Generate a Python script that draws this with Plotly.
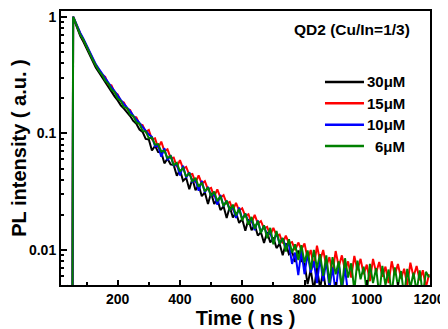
import plotly.graph_objects as go

# time grid (ns)
time_ns = [20, 30, 40, 50, 55, 57] + list(range(60, 1201, 10))

series_names = ["30\u03bcM", "15\u03bcM", "10\u03bcM", "6\u03bcM"]
series_colors = ["#000000", "#ff0000", "#0000ff", "#008000"]

pl_30uM = [0.0038, 0.0041, 0.0046, 0.0045, 0.0046, 1.0,
    0.94, 0.79, 0.685, 0.61, 0.537, 0.473, 0.416, 0.366, 0.334, 0.304,
    0.275, 0.246, 0.228, 0.208, 0.192, 0.174, 0.163, 0.152, 0.141, 0.128,
    0.121, 0.108, 0.103, 0.0898, 0.0888, 0.0713, 0.0782, 0.0691, 0.0689, 0.0554,
    0.0607, 0.0543, 0.0535, 0.0434, 0.0487, 0.0392, 0.0416, 0.0332, 0.0409, 0.0326,
    0.0361, 0.0290, 0.0312, 0.0248, 0.0310, 0.0248, 0.0274, 0.0220, 0.0237, 0.0188,
    0.0235, 0.0190, 0.0210, 0.0171, 0.0184, 0.0146, 0.0184, 0.0148, 0.0165, 0.0133,
    0.0142, 0.0115, 0.0143, 0.0116, 0.0128, 0.0104, 0.0113, 0.0090, 0.0114, 0.0092,
    0.0097, 0.0079, 0.0099, 0.0081, 0.0076, 0.0051, 0.0068, 0.0045, 0.0070, 0.0047,
    0.0066, 0.0043, 0.0040]

pl_15uM = [0.0040, 0.0043, 0.0048, 0.0046, 0.0047, 1.0,
    0.965, 0.822, 0.715, 0.637, 0.562, 0.495, 0.436, 0.385, 0.352, 0.320,
    0.305, 0.263, 0.258, 0.225, 0.216, 0.189, 0.184, 0.163, 0.159, 0.139,
    0.137, 0.120, 0.118, 0.103, 0.107, 0.089, 0.091, 0.075, 0.085, 0.0706,
    0.0731, 0.0617, 0.0621, 0.0516, 0.0590, 0.0500, 0.0517, 0.0442, 0.0450, 0.0378,
    0.0437, 0.0370, 0.0389, 0.0331, 0.0341, 0.0287, 0.0331, 0.0281, 0.0295, 0.0251,
    0.0259, 0.0220, 0.0254, 0.0218, 0.0228, 0.0195, 0.0203, 0.0171, 0.0200, 0.0169,
    0.0177, 0.0153, 0.0158, 0.0134, 0.0155, 0.0133, 0.0136, 0.0114, 0.0133, 0.0114,
    0.0117, 0.0100, 0.0116, 0.0101, 0.0114, 0.0084, 0.0100, 0.0071, 0.0109, 0.0081,
    0.0100, 0.0073, 0.0087, 0.0063, 0.0098, 0.0072, 0.0090, 0.0067, 0.0080, 0.0058,
    0.0089, 0.0067, 0.0084, 0.0062, 0.0075, 0.0054, 0.0084, 0.0064, 0.0079, 0.0059,
    0.0072, 0.0052, 0.0080, 0.0061, 0.0076, 0.0057, 0.0069, 0.0050, 0.0078, 0.0059,
    0.0073, 0.0055, 0.0067, 0.0048, 0.0062]

pl_10uM = [0.0039, 0.0042, 0.0047, 0.0046, 0.0047, 1.0,
    0.965, 0.830, 0.727, 0.650, 0.573, 0.505, 0.444, 0.391, 0.357, 0.325,
    0.297, 0.271, 0.250, 0.231, 0.210, 0.194, 0.179, 0.167, 0.155, 0.142,
    0.133, 0.123, 0.114, 0.105, 0.098, 0.0936, 0.0774, 0.0785, 0.0630, 0.0747,
    0.0588, 0.0648, 0.0529, 0.0543, 0.0436, 0.0529, 0.0416, 0.0464, 0.0384, 0.0398,
    0.0323, 0.0392, 0.0312, 0.0348, 0.0291, 0.0302, 0.0245, 0.0297, 0.0237, 0.0264,
    0.0221, 0.0232, 0.0188, 0.0231, 0.0184, 0.0205, 0.0173, 0.0180, 0.0148, 0.0179,
    0.0142, 0.0161, 0.0134, 0.0141, 0.0115, 0.0140, 0.0113, 0.0126, 0.0107, 0.0112,
    0.0076, 0.0095, 0.0061, 0.0099, 0.0062, 0.0093, 0.0064, 0.0080, 0.0052, 0.0085,
    0.0054, 0.0081, 0.0047, 0.0071, 0.0043, 0.0076, 0.0045, 0.0070, 0.0042, 0.0040]

pl_6uM = [0.0040, 0.0043, 0.0049, 0.0047, 0.0048, 1.0,
    0.96, 0.82, 0.70, 0.635, 0.55, 0.492, 0.428, 0.383, 0.343, 0.318,
    0.284, 0.266, 0.238, 0.226, 0.199, 0.190, 0.168, 0.165, 0.145, 0.141,
    0.124, 0.121, 0.105, 0.104, 0.091, 0.092, 0.080, 0.081, 0.070, 0.071,
    0.0615, 0.0640, 0.0535, 0.0560, 0.0470, 0.0505, 0.0425, 0.0460, 0.0385, 0.0415,
    0.0350, 0.0378, 0.0318, 0.0345, 0.0290, 0.0318, 0.0262, 0.0290, 0.0238, 0.0265,
    0.0218, 0.0245, 0.0198, 0.0225, 0.0180, 0.0206, 0.0165, 0.0192, 0.0152, 0.0178,
    0.0140, 0.0163, 0.0126, 0.0155, 0.0112, 0.0146, 0.0113, 0.0127, 0.0097, 0.0124,
    0.0095, 0.0112, 0.0082, 0.0110, 0.0078, 0.0099, 0.0068, 0.0100, 0.0070, 0.0092,
    0.0060, 0.0090, 0.0052, 0.0087, 0.0062, 0.0080, 0.0047, 0.0085, 0.0058, 0.0077,
    0.0045, 0.0081, 0.0056, 0.0072, 0.0043, 0.0076, 0.0052, 0.0070, 0.0041, 0.0073,
    0.0050, 0.0068, 0.0042, 0.0071, 0.0049, 0.0066, 0.0040, 0.0069, 0.0047, 0.0064,
    0.0044, 0.0067, 0.0041, 0.0065, 0.0058]

series_values = [pl_30uM, pl_15uM, pl_10uM, pl_6uM]

y_tick_vals = [0.01, 0.1, 1]
y_tick_text = ["0.01", "0.1", "1"]
y_minor_vals = [0.006, 0.007, 0.008, 0.009,
                0.02, 0.03, 0.04, 0.05, 0.06, 0.07, 0.08, 0.09,
                0.2, 0.3, 0.4, 0.5, 0.6, 0.7, 0.8, 0.9]

FONT = "Liberation Sans, Arial, sans-serif"

fig = go.Figure()
for name, color, vals in zip(series_names, series_colors, series_values):
    fig.add_trace(go.Scatter(
        x=time_ns[:len(vals)], y=vals, name=name, mode="lines",
        line=dict(color=color, width=2), showlegend=False,
    ))

# legend drawn as key lines + right-aligned labels (paper coordinates)
legend_x0, legend_x1, legend_text_x = 0.7154, 0.8211, 0.938
legend_y_top, legend_dy = 0.741, 0.078
shapes, annotations = [], []
for i, (name, color) in enumerate(zip(series_names, series_colors)):
    yy = legend_y_top - i * legend_dy
    shapes.append(dict(type="line", xref="paper", yref="paper",
                       x0=legend_x0, x1=legend_x1, y0=yy, y1=yy,
                       line=dict(color=color, width=2.5)))
    annotations.append(dict(text=name, xref="paper", yref="paper",
                            x=legend_text_x, y=yy, xanchor="right", yanchor="middle",
                            showarrow=False,
                            font=dict(family=FONT, size=15, color="black", weight="bold")))

annotations.append(dict(
    text="QD2 (Cu/In=1/3)", xref="paper", yref="paper",
    x=0.951, y=0.934, xanchor="right", yanchor="middle", showarrow=False,
    font=dict(family=FONT, size=15.5, color="black", weight="bold"),
))

# the page body adds an 8px offset, so the figure is 8px smaller
fig.update_layout(
    width=440, height=321,
    margin=dict(l=53, r=18, t=3, b=44, autoexpand=False),
    paper_bgcolor="white", plot_bgcolor="white",
    font=dict(family=FONT, size=14, color="black", weight="bold"),
    showlegend=False,
    shapes=shapes, annotations=annotations,
)

fig.update_xaxes(
    range=[18, 1203], tick0=0, dtick=200, automargin=False,
    ticks="inside", ticklen=5, tickwidth=1.5, tickcolor="black",
    minor=dict(ticks="inside", ticklen=3, dtick=100, tick0=0, tickwidth=1.5, tickcolor="black"),
    showline=True, linewidth=2, linecolor="black", mirror=True,
    showgrid=False, zeroline=False,
    tickfont=dict(family=FONT, size=14, color="black", weight="bold"),
    title=dict(text="Time ( ns )", standoff=0,
               font=dict(family=FONT, size=20, color="black", weight="bold")),
)
fig.update_yaxes(
    type="log", range=[-2.30, 0.05], automargin=False,
    tickvals=y_tick_vals, ticktext=y_tick_text,
    ticks="inside", ticklen=6, tickwidth=1.5, tickcolor="black",
    minor=dict(ticks="inside", ticklen=3, tickvals=y_minor_vals, tickwidth=1.5, tickcolor="black"),
    showline=True, linewidth=2, linecolor="black", mirror=True,
    showgrid=False, zeroline=False,
    tickfont=dict(family=FONT, size=14, color="black", weight="bold"),
    title=dict(text="PL intensity ( a.u. )", standoff=6,
               font=dict(family=FONT, size=20, color="black", weight="bold")),
)

fig.write_html("out.html")
